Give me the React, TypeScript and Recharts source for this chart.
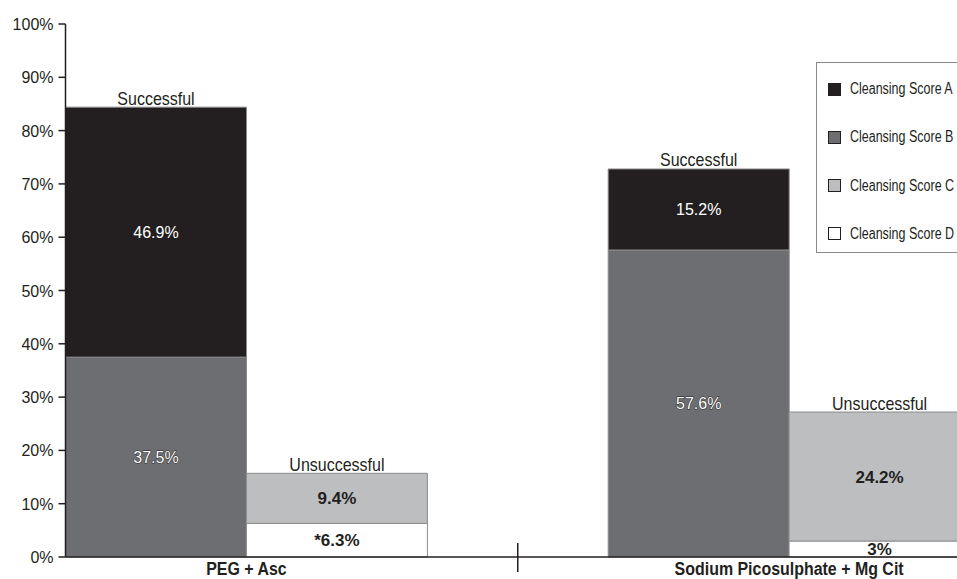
import React from 'react';
import { BarChart, Bar, XAxis, YAxis, Legend, LabelList } from 'recharts';

// Five slots on the category axis: two bars per treatment with an empty slot between treatments
const slotKeys = ['peg-s', 'peg-u', 'gap', 'sod-s', 'sod-u'];
const slotGroup = ['PEG + Asc', 'PEG + Asc', '', 'Sodium Picosulphate + Mg Cit', 'Sodium Picosulphate + Mg Cit'];
const slotOutcome = ['Successful', 'Unsuccessful', '', 'Successful', 'Unsuccessful'];

const scoreA = [46.9, 0, 0, 15.2, 0];
const scoreB = [37.5, 0, 0, 57.6, 0];
const scoreC = [0, 9.4, 0, 0, 24.2];
const scoreD = [0, 6.3, 0, 0, 3];
const noteD = ['', '*', '', '', ''];

const yTicks = [0, 10, 20, 30, 40, 50, 60, 70, 80, 90, 100];

const legendNames = ['Cleansing Score A', 'Cleansing Score B', 'Cleansing Score C', 'Cleansing Score D'];
const colors = { A: '#231f20', B: '#6d6e71', C: '#bcbec0', D: '#ffffff' };
const legendColors = [colors.A, colors.B, colors.C, colors.D];

const INK = '#231f20';
const SANS = "'Liberation Sans', Arial, Helvetica, sans-serif";

const pct = (v: number, note = '') => (v ? `${note}${v}%` : '');

const data = slotKeys.map((key, i) => ({
  key,
  A: scoreA[i],
  B: scoreB[i],
  C: scoreC[i],
  D: scoreD[i],
  labA: pct(scoreA[i]),
  labB: pct(scoreB[i]),
  labC: pct(scoreC[i]),
  labD: pct(scoreD[i], noteD[i]),
  topA: slotOutcome[i] === 'Successful' ? slotOutcome[i] : '',
  topC: slotOutcome[i] === 'Unsuccessful' ? slotOutcome[i] : '',
}));

const OutlinedLabel = (props: any) => {
  const { x, y, width, height, value } = props;
  if (!value) return null;
  return (
    <text
      x={x + width / 2}
      y={y + height / 2}
      dy="0.36em"
      textAnchor="middle"
      fontFamily={SANS}
      fontSize={16}
      fill="#ffffff"
      stroke="#231f20"
      strokeWidth={0.9}
      paintOrder="stroke"
    >
      {value}
    </text>
  );
};

const BoldLabel = (props: any) => {
  const { x, y, width, height, value } = props;
  if (!value) return null;
  return (
    <text
      x={x + width / 2}
      y={y + height / 2}
      dy="0.36em"
      textAnchor="middle"
      fontFamily={SANS}
      fontWeight="bold"
      fontSize={17}
      fill={INK}
    >
      {value}
    </text>
  );
};

const TopLabel = (props: any) => {
  const { x, y, width, value } = props;
  if (!value) return null;
  return (
    <text
      transform={`translate(${x + width / 2},${y - 2.5}) scale(0.89,1)`}
      textAnchor="middle"
      fontFamily={SANS}
      fontSize={18}
      fill={INK}
    >
      {value}
    </text>
  );
};

const YTick = (props: any) => {
  const { x, y, payload } = props;
  return (
    <text x={x} y={y} dy={6} textAnchor="end" fontFamily={SANS} fontSize={16} fill={INK}>
      {`${payload.value}%`}
    </text>
  );
};

const XTick = (props: any) => {
  const { x, y, payload, index } = props;
  const i = typeof index === 'number' ? index : slotKeys.indexOf(payload.value);
  if (slotOutcome[i] === '') {
    return <line x1={x} x2={x} y1={y - 14} y2={y + 15} stroke={INK} strokeWidth={1.5} />;
  }
  if (slotOutcome[i] === 'Successful') {
    const off = typeof payload.offset === 'number' ? payload.offset : 0;
    return (
      <text
        transform={`translate(${x + off},${y + 17.5}) scale(0.84,1)`}
        textAnchor="middle"
        fontFamily={SANS}
        fontWeight="bold"
        fontSize={19}
        fill={INK}
      >
        {slotGroup[i]}
      </text>
    );
  }
  return null;
};

const LegendBox = () => (
  <div style={{ position: 'relative', width: '100%', height: '100%' }}>
    {legendNames.map((name, i) => (
      <div
        key={name}
        style={{
          position: 'absolute',
          left: 11,
          top: 26 + i * 48.3 - 9,
          height: 18,
          display: 'flex',
          alignItems: 'center',
          whiteSpace: 'nowrap',
        }}
      >
        <span
          style={{
            display: 'inline-block',
            width: 11,
            height: 11,
            background: legendColors[i],
            border: `1px solid ${INK}`,
            marginRight: 9,
          }}
        />
        <span
          style={{
            display: 'inline-block',
            fontFamily: SANS,
            fontSize: 16,
            color: INK,
            transform: 'scaleX(0.78)',
            transformOrigin: 'left center',
          }}
        >
          {name}
        </span>
      </div>
    ))}
  </div>
);

export default function App() {
  return (
    <div
      style={{
        position: 'fixed',
        left: 0,
        top: 0,
        width: 957,
        height: 579,
        overflow: 'hidden',
        background: '#fff',
      }}
    >
      <BarChart
        width={970}
        height={579}
        data={data}
        margin={{ top: 24, right: 0, bottom: 0, left: 0 }}
        barCategoryGap={0}
        barGap={0}
      >
        <XAxis
          dataKey="key"
          height={22}
          interval={0}
          tickLine={false}
          tickSize={0}
          tickMargin={0}
          axisLine={{ stroke: INK, strokeWidth: 1.5 }}
          tick={<XTick />}
        />
        <YAxis
          width={65.5}
          domain={[0, 100]}
          ticks={yTicks}
          interval={0}
          tickSize={7}
          tickMargin={5}
          tickLine={{ stroke: INK, strokeWidth: 1.5 }}
          axisLine={{ stroke: INK, strokeWidth: 1.5 }}
          tick={<YTick />}
        />
        <Legend
          layout="vertical"
          align="center"
          verticalAlign="middle"
          content={<LegendBox />}
          wrapperStyle={{
            left: 816,
            top: 62,
            width: 160,
            height: 191,
            border: '1px solid #8a8a8a',
            background: '#fff',
            boxSizing: 'border-box',
          }}
        />
        <Bar dataKey="B" stackId="s" fill={colors.B} stroke="#8c8c8c" strokeWidth={1} isAnimationActive={false}>
          <LabelList dataKey="labB" content={<OutlinedLabel />} />
        </Bar>
        <Bar dataKey="D" stackId="s" fill={colors.D} stroke="#8c8c8c" strokeWidth={1} isAnimationActive={false}>
          <LabelList dataKey="labD" content={<BoldLabel />} />
        </Bar>
        <Bar dataKey="A" stackId="s" fill={colors.A} stroke="#8c8c8c" strokeWidth={1} isAnimationActive={false}>
          <LabelList dataKey="labA" content={<OutlinedLabel />} />
          <LabelList dataKey="topA" content={<TopLabel />} />
        </Bar>
        <Bar dataKey="C" stackId="s" fill={colors.C} stroke="#8c8c8c" strokeWidth={1} isAnimationActive={false}>
          <LabelList dataKey="labC" content={<BoldLabel />} />
          <LabelList dataKey="topC" content={<TopLabel />} />
        </Bar>
      </BarChart>
    </div>
  );
}
